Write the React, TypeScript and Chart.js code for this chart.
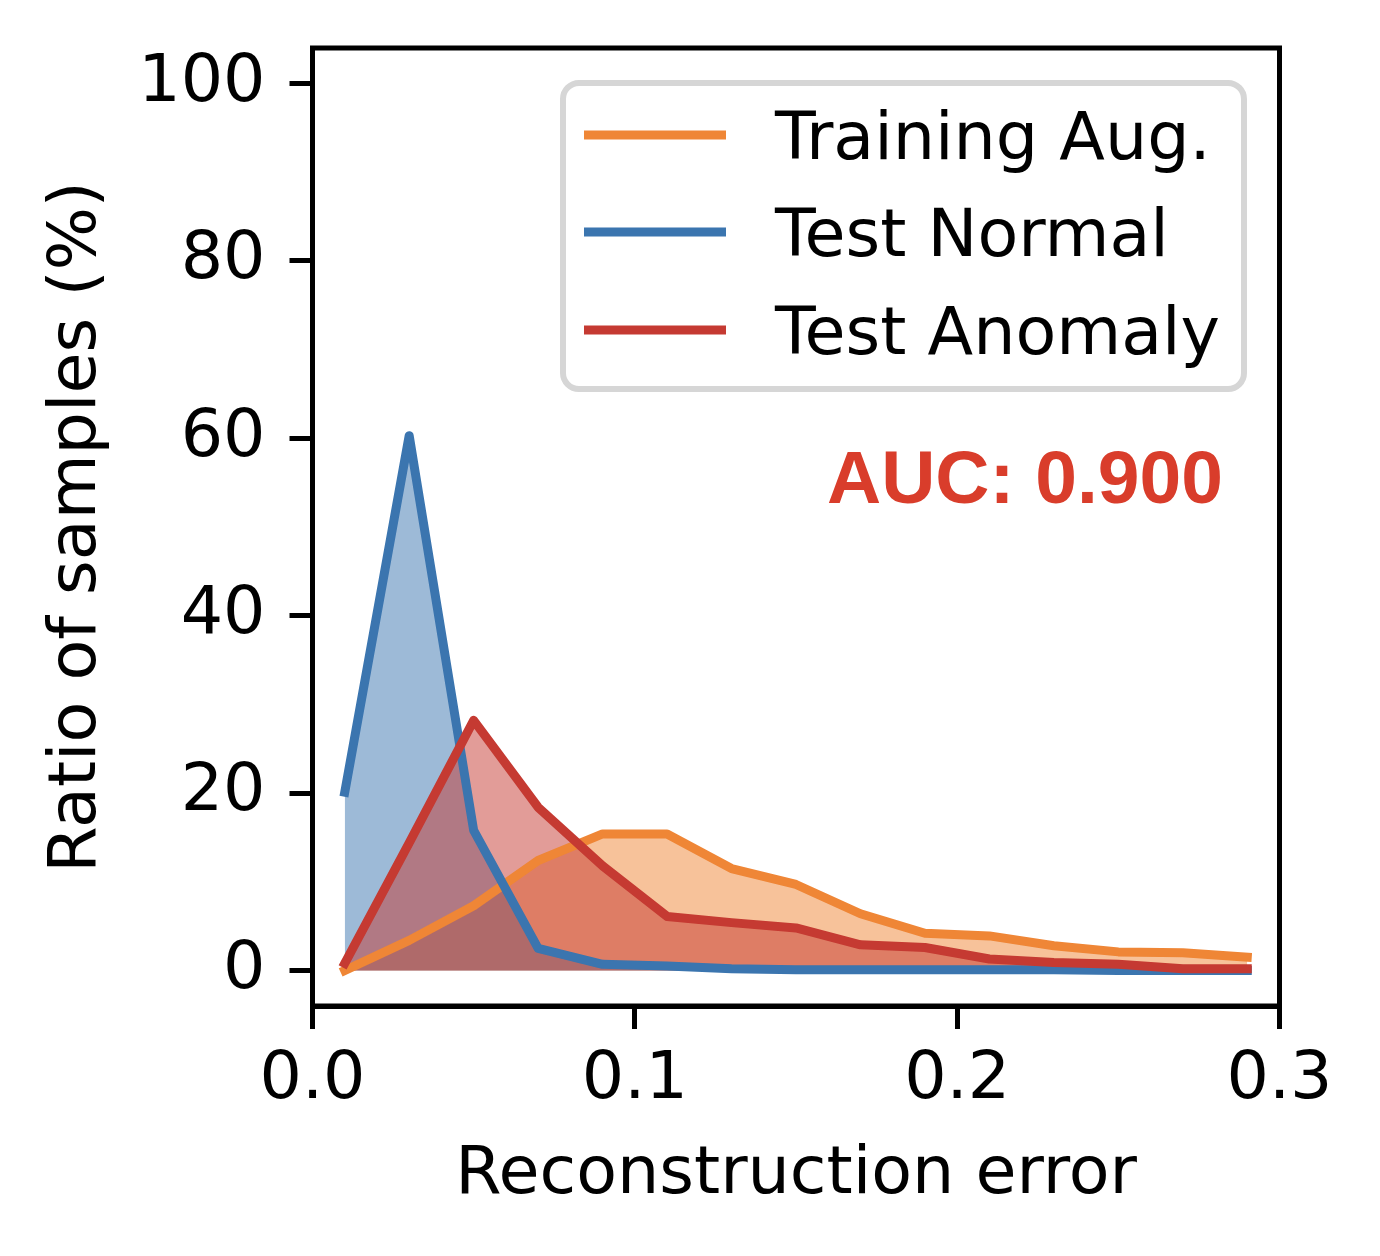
import { useEffect, useRef } from "react";
import { Chart, registerables } from "chart.js";

Chart.register(...registerables);

// histogram bin centres (reconstruction error)
const errorBins = [0.01, 0.03, 0.05, 0.07, 0.09, 0.11, 0.13, 0.15, 0.17, 0.19, 0.21, 0.23, 0.25, 0.27, 0.29];

// ratio of samples (%) per bin
const trainingAug = [0, 3.4, 7.3, 12.4, 15.4, 15.4, 11.5, 9.7, 6.4, 4.2, 3.9, 2.8, 2.1, 2.0, 1.5];
const testNormal = [20.1, 60.3, 15.8, 2.5, 0.7, 0.5, 0.2, 0.1, 0.1, 0.1, 0.1, 0.1, 0, 0, 0];
const testAnomaly = [0.8, 14.4, 28.2, 18.4, 11.8, 6.1, 5.4, 4.8, 2.9, 2.6, 1.3, 0.9, 0.7, 0.2, 0.2];

const xTickValues = [0, 0.1, 0.2, 0.3];
const yTickValues = [0, 20, 40, 60, 80, 100];

const seriesNames = ["Training Aug.", "Test Normal", "Test Anomaly"];
const seriesColors = ["#ef8636", "#3b75af", "#c53a32"];
const fillColors = ["rgba(239,134,54,0.5)", "rgba(59,117,175,0.5)", "rgba(197,58,50,0.5)"];

const aucLabel = "AUC: 0.900";

const FONT = "'DejaVu Sans', sans-serif";

export default function App() {
  const canvasRef = useRef<HTMLCanvasElement>(null);
  const chartRef = useRef<Chart | null>(null);

  useEffect(() => {
    document.body.style.margin = "0";
    if (!canvasRef.current) return;
    const ctx = canvasRef.current.getContext("2d");
    if (!ctx) return;

    if (chartRef.current) chartRef.current.destroy();

    const font = { family: FONT, size: 66.7 };
    const allSeries = [trainingAug, testNormal, testAnomaly];

    // frame, legend box and AUC text
    const decorations = {
      id: "decorations",
      afterDraw(chart: Chart) {
        const c = chart.ctx;
        const area = chart.chartArea;
        c.save();

        c.strokeStyle = "#000";
        c.lineWidth = 5;
        c.strokeRect(area.left, area.top, area.right - area.left, area.bottom - area.top);

        // legend
        const lx = 563, ly = 83, lw = 681, lh = 306;
        c.beginPath();
        c.roundRect(lx, ly, lw, lh, 16);
        c.fillStyle = "rgba(255,255,255,0.8)";
        c.fill();
        c.strokeStyle = "#d6d6d6";
        c.lineWidth = 6;
        c.stroke();

        const rowY = [135, 232, 330];
        c.font = `66.7px ${FONT}`;
        c.textAlign = "left";
        c.textBaseline = "alphabetic";
        seriesNames.forEach((name, i) => {
          c.strokeStyle = seriesColors[i];
          c.lineWidth = 9;
          c.lineCap = "butt";
          c.beginPath();
          c.moveTo(584, rowY[i]);
          c.lineTo(726, rowY[i]);
          c.stroke();
          c.fillStyle = "#000";
          c.fillText(name, 775, rowY[i] + 24);
        });

        c.font = `bold 75px 'Liberation Sans', Arial, sans-serif`;
        c.fillStyle = "#d93d2b";
        c.textAlign = "right";
        c.fillText(aucLabel, 1223, 503);

        c.restore();
      },
    };

    // draw order: anomaly on top, then normal, then training
    const drawOrder = [2, 1, 0];

    chartRef.current = new Chart(ctx, {
      type: "line",
      data: {
        datasets: allSeries.map((values, i) => ({
          label: seriesNames[i],
          data: errorBins.map((x, j) => ({ x, y: values[j] })),
          borderColor: seriesColors[i],
          backgroundColor: fillColors[i],
          borderWidth: 9,
          borderCapStyle: "square",
          borderJoinStyle: "round",
          pointRadius: 0,
          tension: 0,
          fill: "origin",
          order: drawOrder[i],
        })),
      },
      options: {
        responsive: false,
        animation: false,
        devicePixelRatio: 1,
        layout: { padding: { top: 48, right: 100.5, left: 0, bottom: 0 } },
        plugins: {
          legend: { display: false },
          tooltip: { enabled: false },
          filler: { drawTime: "beforeDatasetsDraw" },
        },
        scales: {
          x: {
            type: "linear",
            min: 0,
            max: 0.3,
            afterFit: (scale: any) => {
              scale.height = 250;
              scale.paddingLeft = 0;
              scale.paddingRight = 0;
            },
            afterBuildTicks: (scale: any) => {
              scale.ticks = xTickValues.map((v) => ({ value: v }));
            },
            ticks: {
              font,
              color: "#000",
              padding: 12,
              maxRotation: 0,
              autoSkip: false,
              callback: (v: any) => Number(v).toFixed(1),
            },
            grid: { drawOnChartArea: false, color: "#000", lineWidth: 5, tickLength: 23 },
            border: { display: true, color: "#000", width: 5 },
            title: {
              display: true,
              text: "Reconstruction error",
              font,
              color: "#000",
              padding: { top: 0, bottom: 40 },
            },
          },
          y: {
            type: "linear",
            min: -4,
            max: 104,
            afterFit: (scale: any) => {
              scale.width = 312.5;
              scale.paddingTop = 0;
              scale.paddingBottom = 0;
            },
            afterBuildTicks: (scale: any) => {
              scale.ticks = yTickValues.map((v) => ({ value: v }));
            },
            ticks: {
              font,
              color: "#000",
              padding: 24,
              autoSkip: false,
              callback: (v: any) => String(v),
            },
            grid: { drawOnChartArea: false, color: "#000", lineWidth: 5, tickLength: 23 },
            border: { display: true, color: "#000", width: 5 },
            title: {
              display: true,
              text: "Ratio of samples (%)",
              font,
              color: "#000",
              padding: { top: 38, bottom: 0 },
            },
          },
        },
      },
      plugins: [decorations],
    });

    return () => {
      if (chartRef.current) {
        chartRef.current.destroy();
        chartRef.current = null;
      }
    };
  }, []);

  return (
    <div style={{ width: 1380, height: 1256, background: "#fff" }}>
      <canvas ref={canvasRef} width={1380} height={1256} style={{ display: "block" }}></canvas>
    </div>
  );
}
